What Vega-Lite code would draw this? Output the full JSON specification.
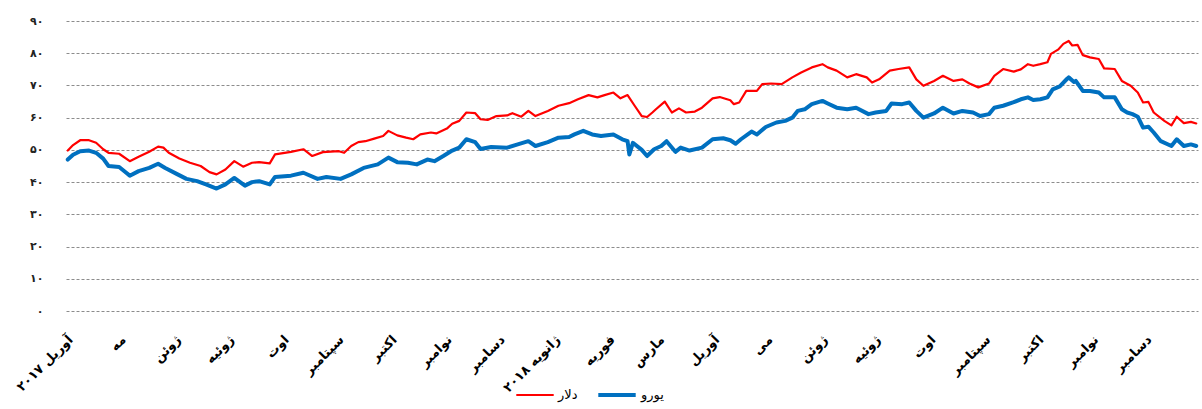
{
"$schema": "https://vega.github.io/schema/vega-lite/v6.json",
"width": 1132, "height": 290,
"autosize": "none",
"padding": {"left": 66, "top": 21, "right": 4, "bottom": 98},
"background": "white",
"config": {"view": {"stroke": null}, "font": "DejaVu Sans"},
"data": {"values": [
{"date":"2017-04-02","currency":"دلار","value":49.8},
{"date":"2017-04-05","currency":"دلار","value":51.5},
{"date":"2017-04-09","currency":"دلار","value":53},
{"date":"2017-04-14","currency":"دلار","value":53},
{"date":"2017-04-18","currency":"دلار","value":52.2},
{"date":"2017-04-22","currency":"دلار","value":50.2},
{"date":"2017-04-25","currency":"دلار","value":49.1},
{"date":"2017-05-01","currency":"دلار","value":48.8},
{"date":"2017-05-07","currency":"دلار","value":46.5},
{"date":"2017-05-12","currency":"دلار","value":47.9},
{"date":"2017-05-18","currency":"دلار","value":49.4},
{"date":"2017-05-23","currency":"دلار","value":51},
{"date":"2017-05-26","currency":"دلار","value":50.7},
{"date":"2017-05-29","currency":"دلار","value":49.1},
{"date":"2017-06-04","currency":"دلار","value":47.3},
{"date":"2017-06-10","currency":"دلار","value":46},
{"date":"2017-06-16","currency":"دلار","value":45},
{"date":"2017-06-21","currency":"دلار","value":43.1},
{"date":"2017-06-25","currency":"دلار","value":42.4},
{"date":"2017-06-30","currency":"دلار","value":43.9},
{"date":"2017-07-05","currency":"دلار","value":46.5},
{"date":"2017-07-10","currency":"دلار","value":44.8},
{"date":"2017-07-15","currency":"دلار","value":46},
{"date":"2017-07-19","currency":"دلار","value":46.2},
{"date":"2017-07-25","currency":"دلار","value":45.8},
{"date":"2017-07-28","currency":"دلار","value":48.6},
{"date":"2017-08-06","currency":"دلار","value":49.4},
{"date":"2017-08-13","currency":"دلار","value":50.2},
{"date":"2017-08-18","currency":"دلار","value":48.1},
{"date":"2017-08-24","currency":"دلار","value":49.3},
{"date":"2017-09-02","currency":"دلار","value":49.6},
{"date":"2017-09-05","currency":"دلار","value":49.1},
{"date":"2017-09-09","currency":"دلار","value":51.2},
{"date":"2017-09-13","currency":"دلار","value":52.4},
{"date":"2017-09-17","currency":"دلار","value":52.7},
{"date":"2017-09-22","currency":"دلار","value":53.5},
{"date":"2017-09-27","currency":"دلار","value":54.3},
{"date":"2017-09-30","currency":"دلار","value":55.9},
{"date":"2017-10-05","currency":"دلار","value":54.5},
{"date":"2017-10-10","currency":"دلار","value":53.8},
{"date":"2017-10-14","currency":"دلار","value":53.3},
{"date":"2017-10-18","currency":"دلار","value":54.8},
{"date":"2017-10-24","currency":"دلار","value":55.4},
{"date":"2017-10-27","currency":"دلار","value":55.1},
{"date":"2017-11-02","currency":"دلار","value":56.6},
{"date":"2017-11-05","currency":"دلار","value":58.1},
{"date":"2017-11-09","currency":"دلار","value":59},
{"date":"2017-11-13","currency":"دلار","value":61.6},
{"date":"2017-11-18","currency":"دلار","value":61.4},
{"date":"2017-11-21","currency":"دلار","value":59.5},
{"date":"2017-11-25","currency":"دلار","value":59.3},
{"date":"2017-11-30","currency":"دلار","value":60.5},
{"date":"2017-12-06","currency":"دلار","value":60.7},
{"date":"2017-12-09","currency":"دلار","value":61.4},
{"date":"2017-12-14","currency":"دلار","value":60.3},
{"date":"2017-12-18","currency":"دلار","value":62.1},
{"date":"2017-12-22","currency":"دلار","value":60.5},
{"date":"2017-12-29","currency":"دلار","value":62.1},
{"date":"2018-01-04","currency":"دلار","value":63.7},
{"date":"2018-01-10","currency":"دلار","value":64.5},
{"date":"2018-01-15","currency":"دلار","value":65.7},
{"date":"2018-01-21","currency":"دلار","value":67},
{"date":"2018-01-26","currency":"دلار","value":66.3},
{"date":"2018-01-30","currency":"دلار","value":67},
{"date":"2018-02-04","currency":"دلار","value":67.8},
{"date":"2018-02-08","currency":"دلار","value":66},
{"date":"2018-02-12","currency":"دلار","value":67},
{"date":"2018-02-16","currency":"دلار","value":63.7},
{"date":"2018-02-20","currency":"دلار","value":60.5},
{"date":"2018-02-23","currency":"دلار","value":60.2},
{"date":"2018-02-26","currency":"دلار","value":61.6},
{"date":"2018-02-28","currency":"دلار","value":62.6},
{"date":"2018-03-05","currency":"دلار","value":65},
{"date":"2018-03-09","currency":"دلار","value":61.6},
{"date":"2018-03-13","currency":"دلار","value":62.9},
{"date":"2018-03-17","currency":"دلار","value":61.6},
{"date":"2018-03-22","currency":"دلار","value":61.9},
{"date":"2018-03-26","currency":"دلار","value":63.1},
{"date":"2018-04-01","currency":"دلار","value":66},
{"date":"2018-04-05","currency":"دلار","value":66.4},
{"date":"2018-04-11","currency":"دلار","value":65.4},
{"date":"2018-04-13","currency":"دلار","value":64.2},
{"date":"2018-04-16","currency":"دلار","value":64.7},
{"date":"2018-04-20","currency":"دلار","value":68.3},
{"date":"2018-04-26","currency":"دلار","value":68.3},
{"date":"2018-04-29","currency":"دلار","value":70.4},
{"date":"2018-05-04","currency":"دلار","value":70.6},
{"date":"2018-05-10","currency":"دلار","value":70.4},
{"date":"2018-05-16","currency":"دلار","value":72.5},
{"date":"2018-05-21","currency":"دلار","value":74},
{"date":"2018-05-27","currency":"دلار","value":75.6},
{"date":"2018-06-02","currency":"دلار","value":76.6},
{"date":"2018-06-05","currency":"دلار","value":75.6},
{"date":"2018-06-10","currency":"دلار","value":74.6},
{"date":"2018-06-16","currency":"دلار","value":72.5},
{"date":"2018-06-21","currency":"دلار","value":73.5},
{"date":"2018-06-27","currency":"دلار","value":72.5},
{"date":"2018-06-30","currency":"دلار","value":70.9},
{"date":"2018-07-04","currency":"دلار","value":71.9},
{"date":"2018-07-10","currency":"دلار","value":74.6},
{"date":"2018-07-15","currency":"دلار","value":75.1},
{"date":"2018-07-21","currency":"دلار","value":75.6},
{"date":"2018-07-25","currency":"دلار","value":71.9},
{"date":"2018-07-29","currency":"دلار","value":69.9},
{"date":"2018-08-04","currency":"دلار","value":71.4},
{"date":"2018-08-09","currency":"دلار","value":73},
{"date":"2018-08-15","currency":"دلار","value":71.4},
{"date":"2018-08-20","currency":"دلار","value":71.9},
{"date":"2018-08-24","currency":"دلار","value":70.6},
{"date":"2018-08-29","currency":"دلار","value":69.4},
{"date":"2018-09-04","currency":"دلار","value":70.6},
{"date":"2018-09-07","currency":"دلار","value":73},
{"date":"2018-09-12","currency":"دلار","value":75.1},
{"date":"2018-09-18","currency":"دلار","value":74.3},
{"date":"2018-09-22","currency":"دلار","value":75},
{"date":"2018-09-26","currency":"دلار","value":76.6},
{"date":"2018-09-29","currency":"دلار","value":76.1},
{"date":"2018-10-03","currency":"دلار","value":76.6},
{"date":"2018-10-07","currency":"دلار","value":77.2},
{"date":"2018-10-09","currency":"دلار","value":79.8},
{"date":"2018-10-13","currency":"دلار","value":81.1},
{"date":"2018-10-16","currency":"دلار","value":82.9},
{"date":"2018-10-19","currency":"دلار","value":83.8},
{"date":"2018-10-21","currency":"دلار","value":82.4},
{"date":"2018-10-24","currency":"دلار","value":82.6},
{"date":"2018-10-27","currency":"دلار","value":79.4},
{"date":"2018-10-31","currency":"دلار","value":78.7},
{"date":"2018-11-05","currency":"دلار","value":78.2},
{"date":"2018-11-08","currency":"دلار","value":75.3},
{"date":"2018-11-14","currency":"دلار","value":75.1},
{"date":"2018-11-18","currency":"دلار","value":71.4},
{"date":"2018-11-23","currency":"دلار","value":69.9},
{"date":"2018-11-27","currency":"دلار","value":67.8},
{"date":"2018-11-30","currency":"دلار","value":64.7},
{"date":"2018-12-03","currency":"دلار","value":64.9},
{"date":"2018-12-06","currency":"دلار","value":61.6},
{"date":"2018-12-12","currency":"دلار","value":59},
{"date":"2018-12-16","currency":"دلار","value":57.6},
{"date":"2018-12-19","currency":"دلار","value":60.3},
{"date":"2018-12-23","currency":"دلار","value":58.3},
{"date":"2018-12-27","currency":"دلار","value":58.7},
{"date":"2018-12-30","currency":"دلار","value":58.2},
{"date":"2017-04-02","currency":"یورو","value":47},
{"date":"2017-04-05","currency":"یورو","value":48.5},
{"date":"2017-04-09","currency":"یورو","value":49.6},
{"date":"2017-04-14","currency":"یورو","value":49.8},
{"date":"2017-04-18","currency":"یورو","value":49.1},
{"date":"2017-04-22","currency":"یورو","value":47.3},
{"date":"2017-04-25","currency":"یورو","value":45},
{"date":"2017-05-01","currency":"یورو","value":44.7},
{"date":"2017-05-05","currency":"یورو","value":42.9},
{"date":"2017-05-07","currency":"یورو","value":42},
{"date":"2017-05-12","currency":"یورو","value":43.4},
{"date":"2017-05-18","currency":"یورو","value":44.4},
{"date":"2017-05-23","currency":"یورو","value":45.7},
{"date":"2017-05-27","currency":"یورو","value":44.4},
{"date":"2017-06-03","currency":"یورو","value":42.4},
{"date":"2017-06-08","currency":"یورو","value":41},
{"date":"2017-06-14","currency":"یورو","value":40.3},
{"date":"2017-06-19","currency":"یورو","value":39.3},
{"date":"2017-06-25","currency":"یورو","value":38},
{"date":"2017-06-30","currency":"یورو","value":39.3},
{"date":"2017-07-05","currency":"یورو","value":41.3},
{"date":"2017-07-11","currency":"یورو","value":38.9},
{"date":"2017-07-15","currency":"یورو","value":40},
{"date":"2017-07-19","currency":"یورو","value":40.3},
{"date":"2017-07-25","currency":"یورو","value":39.3},
{"date":"2017-07-28","currency":"یورو","value":41.6},
{"date":"2017-08-06","currency":"یورو","value":42},
{"date":"2017-08-13","currency":"یورو","value":42.9},
{"date":"2017-08-21","currency":"یورو","value":41},
{"date":"2017-08-26","currency":"یورو","value":41.6},
{"date":"2017-09-03","currency":"یورو","value":41},
{"date":"2017-09-09","currency":"یورو","value":42.4},
{"date":"2017-09-16","currency":"یورو","value":44.4},
{"date":"2017-09-24","currency":"یورو","value":45.5},
{"date":"2017-09-30","currency":"یورو","value":47.6},
{"date":"2017-10-05","currency":"یورو","value":46.2},
{"date":"2017-10-11","currency":"یورو","value":46},
{"date":"2017-10-16","currency":"یورو","value":45.5},
{"date":"2017-10-22","currency":"یورو","value":47},
{"date":"2017-10-26","currency":"یورو","value":46.5},
{"date":"2017-10-31","currency":"یورو","value":48.1},
{"date":"2017-11-05","currency":"یورو","value":49.8},
{"date":"2017-11-09","currency":"یورو","value":50.7},
{"date":"2017-11-13","currency":"یورو","value":53.3},
{"date":"2017-11-18","currency":"یورو","value":52.4},
{"date":"2017-11-21","currency":"یورو","value":50.3},
{"date":"2017-11-27","currency":"یورو","value":50.9},
{"date":"2017-12-06","currency":"یورو","value":50.7},
{"date":"2017-12-12","currency":"یورو","value":51.7},
{"date":"2017-12-18","currency":"یورو","value":52.7},
{"date":"2017-12-22","currency":"یورو","value":51.2},
{"date":"2017-12-29","currency":"یورو","value":52.4},
{"date":"2018-01-04","currency":"یورو","value":53.8},
{"date":"2018-01-10","currency":"یورو","value":54},
{"date":"2018-01-13","currency":"یورو","value":54.8},
{"date":"2018-01-18","currency":"یورو","value":55.9},
{"date":"2018-01-23","currency":"یورو","value":54.8},
{"date":"2018-01-28","currency":"یورو","value":54.3},
{"date":"2018-02-04","currency":"یورو","value":54.8},
{"date":"2018-02-09","currency":"یورو","value":53.3},
{"date":"2018-02-12","currency":"یورو","value":52.7},
{"date":"2018-02-13","currency":"یورو","value":48.6},
{"date":"2018-02-15","currency":"یورو","value":52.2},
{"date":"2018-02-20","currency":"یورو","value":50},
{"date":"2018-02-23","currency":"یورو","value":48.1},
{"date":"2018-02-27","currency":"یورو","value":50.2},
{"date":"2018-03-03","currency":"یورو","value":51.2},
{"date":"2018-03-06","currency":"یورو","value":52.7},
{"date":"2018-03-11","currency":"یورو","value":49.4},
{"date":"2018-03-14","currency":"یورو","value":50.7},
{"date":"2018-03-19","currency":"یورو","value":49.8},
{"date":"2018-03-26","currency":"یورو","value":50.7},
{"date":"2018-04-01","currency":"یورو","value":53.3},
{"date":"2018-04-07","currency":"یورو","value":53.6},
{"date":"2018-04-11","currency":"یورو","value":53},
{"date":"2018-04-14","currency":"یورو","value":51.9},
{"date":"2018-04-17","currency":"یورو","value":53.3},
{"date":"2018-04-23","currency":"یورو","value":55.7},
{"date":"2018-04-26","currency":"یورو","value":54.8},
{"date":"2018-05-01","currency":"یورو","value":57.1},
{"date":"2018-05-07","currency":"یورو","value":58.5},
{"date":"2018-05-12","currency":"یورو","value":59},
{"date":"2018-05-16","currency":"یورو","value":60},
{"date":"2018-05-19","currency":"یورو","value":62.1},
{"date":"2018-05-23","currency":"یورو","value":62.6},
{"date":"2018-05-27","currency":"یورو","value":64.2},
{"date":"2018-06-02","currency":"یورو","value":65.2},
{"date":"2018-06-05","currency":"یورو","value":64.4},
{"date":"2018-06-10","currency":"یورو","value":63.1},
{"date":"2018-06-16","currency":"یورو","value":62.6},
{"date":"2018-06-21","currency":"یورو","value":63.1},
{"date":"2018-06-28","currency":"یورو","value":61.1},
{"date":"2018-07-02","currency":"یورو","value":61.6},
{"date":"2018-07-08","currency":"یورو","value":62.1},
{"date":"2018-07-11","currency":"یورو","value":64.4},
{"date":"2018-07-17","currency":"یورو","value":64.2},
{"date":"2018-07-21","currency":"یورو","value":64.7},
{"date":"2018-07-25","currency":"یورو","value":62.1},
{"date":"2018-07-29","currency":"یورو","value":60},
{"date":"2018-08-04","currency":"یورو","value":61.3},
{"date":"2018-08-09","currency":"یورو","value":63.1},
{"date":"2018-08-15","currency":"یورو","value":61.3},
{"date":"2018-08-20","currency":"یورو","value":62.1},
{"date":"2018-08-26","currency":"یورو","value":61.6},
{"date":"2018-08-30","currency":"یورو","value":60.5},
{"date":"2018-09-04","currency":"یورو","value":61.1},
{"date":"2018-09-07","currency":"یورو","value":63.1},
{"date":"2018-09-12","currency":"یورو","value":63.7},
{"date":"2018-09-18","currency":"یورو","value":64.8},
{"date":"2018-09-22","currency":"یورو","value":65.7},
{"date":"2018-09-26","currency":"یورو","value":66.3},
{"date":"2018-09-29","currency":"یورو","value":65.5},
{"date":"2018-10-03","currency":"یورو","value":65.7},
{"date":"2018-10-07","currency":"یورو","value":66.3},
{"date":"2018-10-10","currency":"یورو","value":68.8},
{"date":"2018-10-14","currency":"یورو","value":69.7},
{"date":"2018-10-18","currency":"یورو","value":72},
{"date":"2018-10-19","currency":"یورو","value":72.5},
{"date":"2018-10-22","currency":"یورو","value":71.1},
{"date":"2018-10-23","currency":"یورو","value":71.4},
{"date":"2018-10-27","currency":"یورو","value":68.3},
{"date":"2018-10-31","currency":"یورو","value":68.3},
{"date":"2018-11-05","currency":"یورو","value":67.8},
{"date":"2018-11-08","currency":"یورو","value":66.3},
{"date":"2018-11-14","currency":"یورو","value":66.3},
{"date":"2018-11-18","currency":"یورو","value":62.6},
{"date":"2018-11-21","currency":"یورو","value":61.6},
{"date":"2018-11-24","currency":"یورو","value":61.1},
{"date":"2018-11-27","currency":"یورو","value":60.3},
{"date":"2018-11-30","currency":"یورو","value":56.9},
{"date":"2018-12-03","currency":"یورو","value":57.2},
{"date":"2018-12-06","currency":"یورو","value":55.4},
{"date":"2018-12-10","currency":"یورو","value":52.7},
{"date":"2018-12-16","currency":"یورو","value":51.2},
{"date":"2018-12-19","currency":"یورو","value":53.3},
{"date":"2018-12-23","currency":"یورو","value":51.2},
{"date":"2018-12-27","currency":"یورو","value":51.7},
{"date":"2018-12-30","currency":"یورو","value":51.2}
]},
"mark": {"type": "line", "strokeJoin": "round", "strokeCap": "round"},
"encoding": {
  "x": {"field": "date", "type": "temporal",
    "scale": {"type": "utc", "domain": [{"year": 2017, "month": 4, "date": 1, "utc": true}, {"year": 2018, "month": 12, "date": 31, "utc": true}]},
    "axis": {"title": null, "domain": false, "ticks": false, "grid": false,
      "tickCount": {"interval": "month", "step": 1},
      "labelAngle": -45, "labelPadding": 22, "labelFontSize": 13, "labelFontWeight": "bold",
      "labelColor": "#000000", "labelFont": "DejaVu Sans", "labelOverlap": false, "labelBound": false, "labelFlush": false,
      "labelExpr": "utcyear(datum.value) == 2017 && utcmonth(datum.value) == 3 ? 'آوریل ۲۰۱۷' : (utcyear(datum.value) == 2018 && utcmonth(datum.value) == 4 ? 'می' : ['ژانویه ۲۰۱۸','فوریه','مارس','آوریل','مه','ژوئن','ژوئیه','اوت','سپتامبر','اکتبر','نوامبر','دسامبر'][utcmonth(datum.value)])"}},
  "y": {"field": "value", "type": "quantitative",
    "scale": {"domain": [0, 90], "nice": false},
    "axis": {"title": null, "domain": false, "ticks": false, "values": [0,10,20,30,40,50,60,70,80,90],
      "grid": true, "gridDash": [3, 2], "gridColor": "#8c8c8c", "gridWidth": 1,
      "labelPadding": 23, "labelFontSize": 11, "labelFontWeight": "bold", "labelColor": "#222222", "labelFont": "DejaVu Sans",
      "labelExpr": "['۰','۱۰','۲۰','۳۰','۴۰','۵۰','۶۰','۷۰','۸۰','۹۰'][round(datum.value / 10)]"}},
  "color": {"field": "currency", "type": "nominal",
    "scale": {"domain": ["دلار", "یورو"], "range": ["#FF0000", "#0070C0"]},
    "legend": {"title": null, "orient": "none", "legendX": 449, "legendY": 353, "direction": "horizontal",
      "symbolType": "stroke", "symbolSize": 1400, "symbolStrokeWidth": 3.5, "labelFontSize": 13, "labelFont": "DejaVu Sans",
      "labelColor": "#000000", "columnPadding": 12, "labelOffset": 3, "padding": 0}},
  "strokeWidth": {"field": "currency", "type": "nominal",
    "scale": {"domain": ["دلار", "یورو"], "range": [2.2, 4]}, "legend": null}
}
}
